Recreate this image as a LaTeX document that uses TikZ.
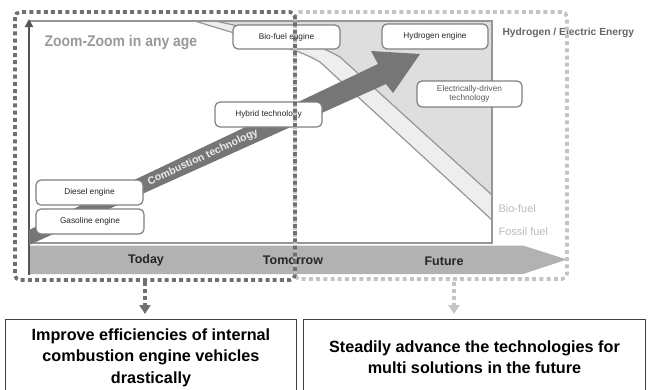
\documentclass[tikz,border=0pt]{standalone}
\usepackage{fontspec}
\setmainfont{Liberation Sans}
\usepackage{graphicx}
\usetikzlibrary{arrows.meta}
\definecolor{arrowgray}{RGB}{118,118,118}
\definecolor{bandgray}{RGB}{178,178,178}
\definecolor{framegray}{RGB}{150,150,150}
\definecolor{elecfill}{RGB}{222,222,222}
\definecolor{biofill}{RGB}{238,238,238}
\definecolor{darkdot}{RGB}{112,112,112}
\definecolor{lightdot}{RGB}{196,196,196}
\definecolor{boxline}{RGB}{128,128,128}
\definecolor{axisgray}{RGB}{85,85,85}
\tikzset{
  chipbox/.style={draw=boxline, fill=white, rounded corners=5pt, line width=1.2pt,
    inner sep=0pt, font=\fontsize{8.3}{9.3}\selectfont, text=black!85, align=center},
  goalbox/.style={draw=black!75, line width=0.9pt, inner sep=0pt, align=center,
    font=\bfseries\fontsize{16.2}{21.5}\selectfont, anchor=north west},
  dotline/.style={line width=3.6pt, dash pattern=on 4pt off 3.2pt},
  timelabel/.style={font=\bfseries\fontsize{12.5}{14}\selectfont, text=black!85},
  sidelabel/.style={font=\fontsize{11}{12}\selectfont, text=black!27, anchor=west}
}
\begin{document}
\begin{tikzpicture}[x=1pt,y=-1pt]
\useasboundingbox (0,0) rectangle (648,389);
% regions
\fill[elecfill] (492,195) -- (340,57) .. controls (310,40) and (280,35) .. (215,21) -- (492,21) -- cycle;
\fill[biofill] (195,21) .. controls (270,45) and (290,45) .. (320,62) -- (492,220) -- (492,195) -- (340,57) .. controls (310,40) and (280,35) .. (215,21) -- cycle;
\draw[framegray, line width=1.2pt] (195,21) .. controls (270,45) and (290,45) .. (320,62) -- (492,220);
\draw[framegray, line width=1.2pt] (215,21) .. controls (280,35) and (310,40) .. (340,57) -- (492,195);
% frame
\draw[framegray, line width=1.6pt] (29,21) -- (492,21) -- (492,243) -- (29,243);
% timeline band
\fill[bandgray] (29,245.5) -- (523,245.5) -- (567,259.5) -- (523,274) -- (29,274) -- cycle;
\node[timelabel] (today) at (146,260) {Today};
\node[timelabel] (tomorrow) at (293,260) {Tomorrow};
\node[timelabel] (future) at (444,261) {Future};
% axis
\draw[axisgray, line width=2.4pt, -{Triangle[width=8pt,length=8pt]}] (29,275) -- (29,19);
% combustion arrow
\fill[arrowgray] (29,245) -- (386,84) -- (393,93) -- (420,54) -- (371,51) -- (378,64) -- (29,230) -- cycle;
\node[rotate=24.8, font=\bfseries\fontsize{10.5}{12}\selectfont, text=white!92!black] (comb) at (203,157.5) {Combustion technology};
% labels
\node[font=\bfseries\fontsize{15.5}{17}\selectfont, text=black!40, anchor=west] (title) at (41,42.5) {\scalebox{0.9}[1]{Zoom-Zoom in any age}};
\node[font=\bfseries\fontsize{10.3}{12}\selectfont, text=black!60, anchor=west] (h2) at (499,33) {Hydrogen / Electric Energy};
\node[sidelabel] (bio) at (495,209) {Bio-fuel};
\node[sidelabel] (fossil) at (495,232) {Fossil fuel};
% boxes
\node[chipbox, minimum width=107pt, minimum height=24pt] (biofuel) at (286.5,37) {Bio-fuel engine};
\node[chipbox, minimum width=106pt, minimum height=25pt] (hydrogen) at (435,36.5) {Hydrogen engine};
\node[chipbox, minimum width=105pt, minimum height=26pt, text=black!65] (electric) at (469.5,94) {Electrically-driven\\technology};
\node[chipbox, minimum width=107pt, minimum height=25pt] (hybrid) at (268.5,114.5) {Hybrid technology};
\node[chipbox, minimum width=107pt, minimum height=25pt] (diesel) at (89.5,192.5) {Diesel engine};
\node[chipbox, minimum width=108pt, minimum height=25pt] (gasoline) at (90,221.5) {Gasoline engine};
% dotted regions
\draw[lightdot, dotline, rounded corners=5pt] (295,12) rectangle (567,279);
\draw[darkdot, dotline, rounded corners=5pt] (15,12) rectangle (295,280);
% goal boxes
\node[goalbox, minimum width=291pt, minimum height=76pt] (goalL) at (5,319) {Improve efficiencies of internal\\combustion engine vehicles\\drastically};
\node[goalbox, minimum width=342pt, minimum height=76pt] (goalR) at (303,319) {Steadily advance the technologies for\\multi solutions in the future};
% dotted arrows
\coordinate (lstart) at (145,282);
\coordinate (rstart) at (454,282);
\draw[darkdot, line width=3.4pt, dash pattern=on 4pt off 3pt, -{Triangle[width=11pt,length=9pt]}, shorten >=5pt] (lstart) -- (lstart |- goalL.north);
\draw[lightdot, line width=3.4pt, dash pattern=on 4pt off 3pt, -{Triangle[width=11pt,length=9pt]}, shorten >=5pt] (rstart) -- (rstart |- goalR.north);
\end{tikzpicture}
\end{document}
